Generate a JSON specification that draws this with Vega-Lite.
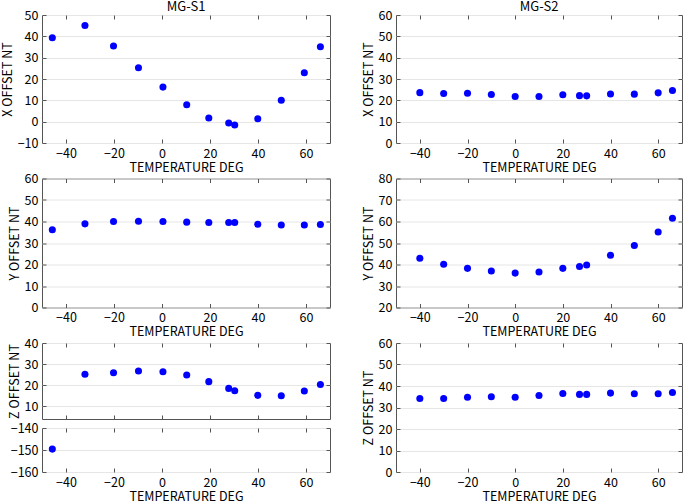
{
  "$schema": "https://vega.github.io/schema/vega-lite/v6.json",
  "background": "white",
  "padding": {"left": 0, "top": 0, "right": 0, "bottom": 0},
  "datasets": {
    "s1": [
      {"t": -45.7, "x": 39.3, "y": 36.2, "z": -149.6},
      {"t": -32.1, "x": 45.1, "y": 38.9, "z": 25.2},
      {"t": -20.2, "x": 35.5, "y": 40.0, "z": 25.9},
      {"t": -9.8, "x": 25.3, "y": 40.1, "z": 26.7},
      {"t": 0.4, "x": 16.2, "y": 40.0, "z": 26.4},
      {"t": 10.3, "x": 7.9, "y": 39.7, "z": 24.8},
      {"t": 19.5, "x": 1.7, "y": 39.5, "z": 21.7},
      {"t": 27.8, "x": -0.6, "y": 39.5, "z": 18.5},
      {"t": 30.3, "x": -1.6, "y": 39.5, "z": 17.4},
      {"t": 39.9, "x": 1.4, "y": 38.7, "z": 15.2},
      {"t": 49.7, "x": 10.0, "y": 38.4, "z": 15.0},
      {"t": 59.3, "x": 22.9, "y": 38.4, "z": 17.3},
      {"t": 66.0, "x": 35.1, "y": 38.6, "z": 20.3}
    ],
    "s2": [
      {"t": -40, "x": 23.6, "y": 42.9, "z": 34.2},
      {"t": -30, "x": 23.2, "y": 40.1, "z": 34.2},
      {"t": -20, "x": 23.3, "y": 38.2, "z": 34.8},
      {"t": -10, "x": 22.7, "y": 37.0, "z": 35.0},
      {"t": 0, "x": 21.8, "y": 36.0, "z": 34.8},
      {"t": 10, "x": 21.8, "y": 36.5, "z": 35.6},
      {"t": 20, "x": 22.6, "y": 38.2, "z": 36.5},
      {"t": 27, "x": 22.2, "y": 39.1, "z": 36.1},
      {"t": 30, "x": 22.1, "y": 39.8, "z": 36.1},
      {"t": 40, "x": 23.0, "y": 44.3, "z": 36.7},
      {"t": 50, "x": 22.9, "y": 48.8, "z": 36.4},
      {"t": 60, "x": 23.5, "y": 55.1, "z": 36.4},
      {"t": 66, "x": 24.6, "y": 61.5, "z": 37.0}
    ]
  },
  "config": {
    "font": "Noto Sans CJK JP",
    "view": {"stroke": "#555555", "strokeWidth": 1},
    "axis": {
      "domain": false,
      "tickSize": -4,
      "tickColor": "#555555",
      "labelPadding": 8,
      "labelFont": "Noto Sans CJK JP",
      "titleFont": "Noto Sans CJK JP",
      "labelFontSize": 12.5,
      "titleFontSize": 12.5,
      "titleFontWeight": "normal",
      "labelColor": "#000000",
      "titleColor": "#000000",
      "gridColor": "#e6e6e6",
      "titlePadding": 3,
      "labelFlush": false,
      "labelOverlap": false
    },
    "axisX": {"grid": false, "labelPadding": 8, "titlePadding": 1.5},
    "axisY": {"grid": true},
    "title": {"font": "Noto Sans CJK JP", "fontSize": 13, "fontWeight": "normal", "color": "#000000", "offset": -5},
    "circle": {"size": 50, "color": "#0000ff", "opacity": 1}
  },
  "hconcat": [
    {
      "vconcat": [
        {
          "title": "MG-S1",
          "width": 288,
          "height": 128,
          "data": {"name": "s1"},
          "layer": [
            {
              "mark": "circle",
              "encoding": {
                "x": {"field": "t", "type": "quantitative", "scale": {"domain": [-50, 70], "nice": false, "zero": false}, "axis": {"title": "TEMPERATURE DEG", "values": [-40, -20, 0, 20, 40, 60]}},
                "y": {"field": "x", "type": "quantitative", "scale": {"domain": [-10, 50], "nice": false, "zero": false}, "axis": {"title": "X OFFSET NT", "values": [-10, 0, 10, 20, 30, 40, 50]}}
              }
            },
            {
              "mark": {"type": "circle", "opacity": 0},
              "encoding": {
                "x": {"field": "t", "type": "quantitative", "axis": {"orient": "top", "title": null, "labels": false, "values": [-40, -20, 0, 20, 40, 60]}},
                "y": {"field": "x", "type": "quantitative", "axis": {"orient": "right", "title": null, "labels": false, "grid": false, "values": [-10, 0, 10, 20, 30, 40, 50]}}
              }
            }
          ],
          "resolve": {"axis": {"x": "independent", "y": "independent"}}
        },
        {
          "width": 288,
          "height": 129,
          "data": {"name": "s1"},
          "layer": [
            {
              "mark": "circle",
              "encoding": {
                "x": {"field": "t", "type": "quantitative", "scale": {"domain": [-50, 70], "nice": false, "zero": false}, "axis": {"title": "TEMPERATURE DEG", "values": [-40, -20, 0, 20, 40, 60]}},
                "y": {"field": "y", "type": "quantitative", "scale": {"domain": [0, 60], "nice": false, "zero": false}, "axis": {"title": "Y OFFSET NT", "values": [0, 10, 20, 30, 40, 50, 60]}}
              }
            },
            {
              "mark": {"type": "circle", "opacity": 0},
              "encoding": {
                "x": {"field": "t", "type": "quantitative", "axis": {"orient": "top", "title": null, "labels": false, "values": [-40, -20, 0, 20, 40, 60]}},
                "y": {"field": "y", "type": "quantitative", "axis": {"orient": "right", "title": null, "labels": false, "grid": false, "values": [0, 10, 20, 30, 40, 50, 60]}}
              }
            }
          ],
          "resolve": {"axis": {"x": "independent", "y": "independent"}}
        },
        {
          "vconcat": [
            {
              "width": 288,
              "height": 76,
              "data": {"name": "s1"},
              "transform": [{"filter": "datum.z > -100"}],
              "layer": [
                {
                  "mark": "circle",
                  "encoding": {
                    "x": {"field": "t", "type": "quantitative", "scale": {"domain": [-50, 70], "nice": false, "zero": false}, "axis": {"title": null, "labels": false, "values": [-40, -20, 0, 20, 40, 60]}},
                    "y": {"field": "z", "type": "quantitative", "scale": {"domain": [4, 40], "nice": false, "zero": false}, "axis": {"title": "Z OFFSET NT", "values": [10, 20, 30, 40]}}
                  }
                },
                {
                  "mark": {"type": "circle", "opacity": 0},
                  "encoding": {
                    "x": {"field": "t", "type": "quantitative", "axis": {"orient": "top", "title": null, "labels": false, "values": [-40, -20, 0, 20, 40, 60]}},
                    "y": {"field": "z", "type": "quantitative", "axis": {"orient": "right", "title": null, "labels": false, "grid": false, "values": [10, 20, 30, 40]}}
                  }
                }
              ],
              "resolve": {"axis": {"x": "independent", "y": "independent"}}
            },
            {
              "width": 288,
              "height": 44,
              "data": {"name": "s1"},
              "transform": [{"filter": "datum.z < -100"}],
              "layer": [
                {
                  "mark": "circle",
                  "encoding": {
                    "x": {"field": "t", "type": "quantitative", "scale": {"domain": [-50, 70], "nice": false, "zero": false}, "axis": {"title": "TEMPERATURE DEG", "values": [-40, -20, 0, 20, 40, 60]}},
                    "y": {"field": "z", "type": "quantitative", "scale": {"domain": [-160, -140], "nice": false, "zero": false}, "axis": {"title": null, "values": [-160, -150, -140]}}
                  }
                },
                {
                  "mark": {"type": "circle", "opacity": 0},
                  "encoding": {
                    "x": {"field": "t", "type": "quantitative", "axis": {"orient": "top", "title": null, "labels": false, "values": [-40, -20, 0, 20, 40, 60]}},
                    "y": {"field": "z", "type": "quantitative", "axis": {"orient": "right", "title": null, "labels": false, "grid": false, "values": [-160, -150, -140]}}
                  }
                }
              ],
              "resolve": {"axis": {"x": "independent", "y": "independent"}}
            }
          ],
          "spacing": 9,
          "bounds": "flush"
        }
      ],
      "spacing": 35.5,
      "bounds": "flush"
    },
    {
      "vconcat": [
        {
          "title": "MG-S2",
          "width": 286,
          "height": 128,
          "data": {"name": "s2"},
          "layer": [
            {
              "mark": "circle",
              "encoding": {
                "x": {"field": "t", "type": "quantitative", "scale": {"domain": [-50, 70], "nice": false, "zero": false}, "axis": {"title": "TEMPERATURE DEG", "values": [-40, -20, 0, 20, 40, 60]}},
                "y": {"field": "x", "type": "quantitative", "scale": {"domain": [0, 60], "nice": false, "zero": false}, "axis": {"title": "X OFFSET NT", "values": [0, 10, 20, 30, 40, 50, 60]}}
              }
            },
            {
              "mark": {"type": "circle", "opacity": 0},
              "encoding": {
                "x": {"field": "t", "type": "quantitative", "axis": {"orient": "top", "title": null, "labels": false, "values": [-40, -20, 0, 20, 40, 60]}},
                "y": {"field": "x", "type": "quantitative", "axis": {"orient": "right", "title": null, "labels": false, "grid": false, "values": [0, 10, 20, 30, 40, 50, 60]}}
              }
            }
          ],
          "resolve": {"axis": {"x": "independent", "y": "independent"}}
        },
        {
          "width": 286,
          "height": 129,
          "data": {"name": "s2"},
          "layer": [
            {
              "mark": "circle",
              "encoding": {
                "x": {"field": "t", "type": "quantitative", "scale": {"domain": [-50, 70], "nice": false, "zero": false}, "axis": {"title": "TEMPERATURE DEG", "values": [-40, -20, 0, 20, 40, 60]}},
                "y": {"field": "y", "type": "quantitative", "scale": {"domain": [20, 80], "nice": false, "zero": false}, "axis": {"title": "Y OFFSET NT", "values": [20, 30, 40, 50, 60, 70, 80]}}
              }
            },
            {
              "mark": {"type": "circle", "opacity": 0},
              "encoding": {
                "x": {"field": "t", "type": "quantitative", "axis": {"orient": "top", "title": null, "labels": false, "values": [-40, -20, 0, 20, 40, 60]}},
                "y": {"field": "y", "type": "quantitative", "axis": {"orient": "right", "title": null, "labels": false, "grid": false, "values": [20, 30, 40, 50, 60, 70, 80]}}
              }
            }
          ],
          "resolve": {"axis": {"x": "independent", "y": "independent"}}
        },
        {
          "width": 286,
          "height": 129,
          "data": {"name": "s2"},
          "layer": [
            {
              "mark": "circle",
              "encoding": {
                "x": {"field": "t", "type": "quantitative", "scale": {"domain": [-50, 70], "nice": false, "zero": false}, "axis": {"title": "TEMPERATURE DEG", "values": [-40, -20, 0, 20, 40, 60]}},
                "y": {"field": "z", "type": "quantitative", "scale": {"domain": [0, 60], "nice": false, "zero": false}, "axis": {"title": "Z OFFSET NT", "values": [0, 10, 20, 30, 40, 50, 60]}}
              }
            },
            {
              "mark": {"type": "circle", "opacity": 0},
              "encoding": {
                "x": {"field": "t", "type": "quantitative", "axis": {"orient": "top", "title": null, "labels": false, "values": [-40, -20, 0, 20, 40, 60]}},
                "y": {"field": "z", "type": "quantitative", "axis": {"orient": "right", "title": null, "labels": false, "grid": false, "values": [0, 10, 20, 30, 40, 50, 60]}}
              }
            }
          ],
          "resolve": {"axis": {"x": "independent", "y": "independent"}}
        }
      ],
      "spacing": 35.5,
      "bounds": "flush"
    }
  ],
  "spacing": 30
}
